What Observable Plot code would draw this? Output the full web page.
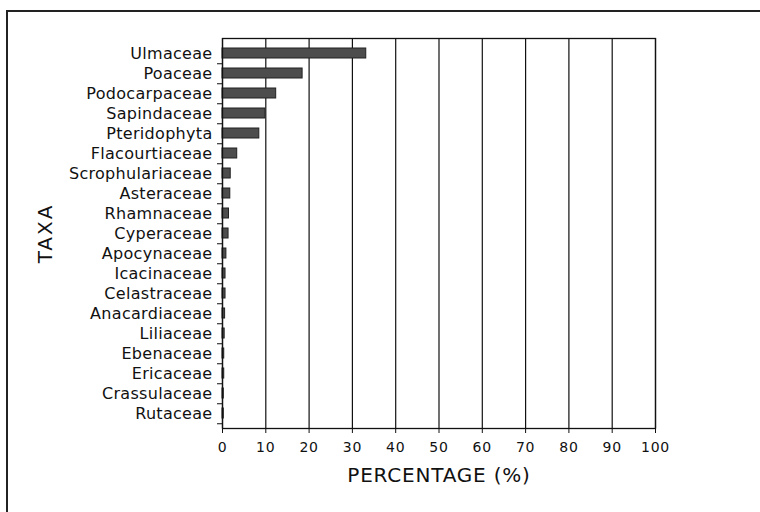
<!DOCTYPE html>
<html><head><meta charset="utf-8">
<script src="https://cdn.jsdelivr.net/npm/d3@7"></script>
<script src="https://cdn.jsdelivr.net/npm/@observablehq/plot@0.6"></script>
<style>
body{margin:0;background:#fff;}
#wrap{position:relative;width:760px;height:512px;overflow:hidden;background:#fff;}
#border{position:absolute;left:6px;top:10px;width:820px;height:620px;border-top:2px solid #222;border-left:2px solid #222;}
#chart{position:absolute;left:0;top:0;}
#chart g[aria-label="y-axis tick label"] text{letter-spacing:0.3px;}
#chart g[aria-label="x-axis tick label"] text{letter-spacing:0.8px;}
#chart g.xtitle text{letter-spacing:0.8px;}
#chart g.ytitle text{letter-spacing:2px;}
</style></head><body>
<div id="wrap"><div id="border"></div><div id="chart"></div></div>
<script>
const taxa = ["Ulmaceae","Poaceae","Podocarpaceae","Sapindaceae","Pteridophyta","Flacourtiaceae","Scrophulariaceae","Asteraceae","Rhamnaceae","Cyperaceae","Apocynaceae","Icacinaceae","Celastraceae","Anacardiaceae","Liliaceae","Ebenaceae","Ericaceae","Crassulaceae","Rutaceae"];
const percentages = [33.2,18.5,12.4,9.9,8.5,3.4,1.9,1.8,1.5,1.4,0.9,0.7,0.7,0.6,0.5,0.4,0.4,0.3,0.3];
const xTicks = [0,10,20,30,40,50,60,70,80,90,100];
const xTitle = "PERCENTAGE (%)";
const yTitle = "TAXA";

const data = taxa.map((t,i)=>({taxon:t, value:percentages[i]}));
const W=760, H=512, mT=38, mB=84, mL=222, mR=105;
const step = (H-mT-mB)/taxa.length;

const chart = Plot.plot({
  width:W, height:H, marginTop:mT, marginBottom:mB, marginLeft:mL, marginRight:mR,
  style:{fontFamily:"'DejaVu Sans', sans-serif", fontSize:"16px", color:"#111", background:"transparent"},
  x:{domain:[0,100]},
  y:{domain:taxa, padding:0},
  marks:[
    Plot.ruleX(xTicks, {stroke:"#111", strokeWidth:1.2}),
    Plot.barX(data,{x:"value", y:"taxon", fill:"#4d4d4d", stroke:"#222", strokeWidth:1, insetTop:5, insetBottom:5}),
    Plot.frame({stroke:"#111", strokeWidth:1.3}),
    Plot.axisX({ticks:xTicks, tickSize:5, tickPadding:9, fontSize:14, label:null, stroke:"#111"}),
    Plot.axisY({tickSize:0, tickPadding:10, label:null}),
    Plot.axisY({text:null, tickSize:5, dy: step/2, label:null, stroke:"#111"}),
    Plot.text([xTitle], {frameAnchor:"bottom", dy:47, lineAnchor:"middle", textAnchor:"middle", fontSize:20, fill:"#111", className:"xtitle"}),
    Plot.text([yTitle], {frameAnchor:"left", dx:-177, rotate:-90, lineAnchor:"middle", textAnchor:"middle", fontSize:20, fill:"#111", className:"ytitle"})
  ]
});
document.getElementById("chart").appendChild(chart);
</script>
</body></html>
